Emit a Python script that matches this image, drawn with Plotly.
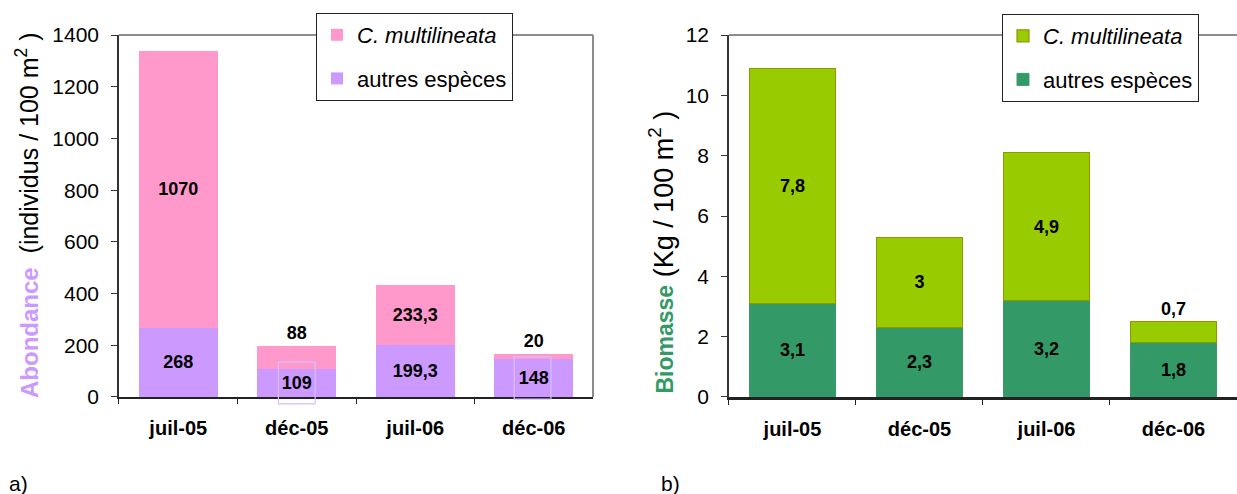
import plotly.graph_objects as go

# Sampling dates
dates = ["juil-05", "déc-05", "juil-06", "déc-06"]

# Abundance (individuals / 100 m²)
abond_autres = [268, 109, 199.3, 148]
abond_cmult = [1070, 88, 233.3, 20]

# Biomass (kg / 100 m²)
bio_autres = [3.1, 2.3, 3.2, 1.8]
bio_cmult = [7.8, 3, 4.9, 0.7]

abond_ticks = [0, 200, 400, 600, 800, 1000, 1200, 1400]
bio_ticks = [0, 2, 4, 6, 8, 10, 12]

FONT = "Liberation Sans, Arial, sans-serif"
PINK = "#FF99CC"
PURPLE = "#CC99FF"
LIME = "#99CC00"
GREEN = "#339966"


def fr(v):
    """French decimal formatting (comma separator)."""
    return f"{v:g}".replace(".", ",")


label_font = dict(family=FONT, size=18, color="black", weight="bold")

fig = go.Figure()

# ---- a) abundance ----
fig.add_trace(go.Bar(
    x=dates, y=abond_autres, name="autres espèces",
    marker=dict(color=PURPLE, line=dict(width=0)),
    width=0.667, text=[fr(v) for v in abond_autres],
    textposition="inside", insidetextanchor="middle", constraintext="none",
    textfont=label_font, xaxis="x", yaxis="y",
    legend="legend", legendgroup="a_autres", legendrank=2,
))
fig.add_trace(go.Bar(
    x=dates, y=abond_cmult, name="<i>C. multilineata</i>",
    marker=dict(color=PINK, line=dict(width=0)),
    width=0.667, text=[fr(v) for v in abond_cmult],
    textposition=["inside", "outside", "inside", "outside"],
    insidetextanchor="middle", constraintext="none",
    textfont=label_font, xaxis="x", yaxis="y",
    legend="legend", legendgroup="a_cmult", legendrank=1,
))

# ---- b) biomass ----
fig.add_trace(go.Bar(
    x=dates, y=bio_autres, name="autres espèces",
    marker=dict(color=GREEN, line=dict(width=1, color="#3A9A6A")),
    width=0.675, text=[fr(v) for v in bio_autres],
    textposition="inside", insidetextanchor="middle", constraintext="none",
    textfont=label_font, xaxis="x2", yaxis="y2",
    legend="legend2", legendgroup="b_autres", legendrank=2,
))
fig.add_trace(go.Bar(
    x=dates, y=bio_cmult, name="<i>C. multilineata</i>",
    marker=dict(color=LIME, line=dict(width=1.2, color="#8C9900")),
    width=0.675, text=[fr(v) for v in bio_cmult],
    textposition=["inside", "inside", "inside", "outside"],
    insidetextanchor="middle", constraintext="none",
    textfont=label_font, xaxis="x2", yaxis="y2",
    legend="legend2", legendgroup="b_cmult", legendrank=1,
))

ydom = [0.1964, 0.9291]
xaxis_common = dict(
    type="category", tickson="boundaries", ticks="outside", ticklen=5,
    tickcolor="#222", showline=True, linecolor="#222",
    showgrid=False, zeroline=False, ticklabelstandoff=12, automargin=False,
    tickfont=dict(family=FONT, size=20, color="black", weight="bold"),
)
yaxis_common = dict(
    ticks="outside", ticklen=6, tickcolor="#333", showline=True,
    linecolor="#333", linewidth=1.5, showgrid=False, zeroline=False,
    ticklabelstandoff=8, domain=ydom, automargin=False,
    tickfont=dict(family=FONT, size=21, color="black"),
)

legend_common = dict(
    bgcolor="white", bordercolor="#222", borderwidth=1,
    font=dict(family=FONT, size=22, color="black"),
    traceorder="grouped", tracegroupgap=12,
    xanchor="left", yanchor="top",
)

fig.update_layout(
    template="none",
    width=1237, height=494,
    margin=dict(l=0, r=0, t=0, b=0, autoexpand=False),
    paper_bgcolor="white", plot_bgcolor="white",
    barmode="stack",
    font=dict(family=FONT, color="black"),
    xaxis=dict(domain=[0.0962, 0.4794], anchor="y", linewidth=1.8, **xaxis_common),
    yaxis=dict(anchor="x", range=[0, 1400], tickvals=abond_ticks, **yaxis_common),
    xaxis2=dict(domain=[0.5893, 1.0], anchor="y2", linewidth=2.5, **xaxis_common),
    yaxis2=dict(anchor="x2", range=[0, 12], tickvals=bio_ticks, **yaxis_common),
    legend=dict(x=316 / 1237, y=1 - 13 / 494, **legend_common),
    legend2=dict(x=1002 / 1237, y=1 - 14 / 494, **legend_common),
    showlegend=True,
)

# Grey frame on top / right of each plot area
frame = dict(type="line", line=dict(color="#8C8C8C", width=2), layer="below")
fig.add_shape(xref="x domain", yref="y domain", x0=0, x1=1, y0=1, y1=1, **frame)
fig.add_shape(xref="x domain", yref="y domain", x0=1, x1=1, y0=0, y1=1, **frame)
fig.add_shape(xref="x2 domain", yref="y2 domain", x0=0, x1=1, y0=1, y1=1, **frame)

# Thin outline boxes around two of the abundance labels
box = dict(type="rect", xref="x", yref="y domain", line=dict(color="#D8BFFF", width=1.2),
           fillcolor="rgba(0,0,0,0)", layer="above")
fig.add_shape(x0=0.845, x1=1.155, y0=-27 / 1400, y1=135 / 1400, **box)
fig.add_shape(x0=2.835, x1=3.145, y0=-8 / 1400, y1=155 / 1400, **box)

# Axis titles
fig.add_annotation(
    xref="paper", yref="paper", x=27 / 1237, y=1 - 215 / 494,
    xanchor="center", yanchor="middle", textangle=-90, showarrow=False,
    text="<b><span style='color:#CC99FF;font-size:24px'>Abondance</span></b>"
         "\u00a0\u00a0(individus / 100 m<sup>2</sup> )",
    font=dict(family=FONT, size=25, color="black"),
)
fig.add_annotation(
    xref="paper", yref="paper", x=662 / 1237, y=1 - 252.5 / 494,
    xanchor="center", yanchor="middle", textangle=-90, showarrow=False,
    text="<b><span style='color:#339966;font-size:23px'>Biomasse</span></b>"
         "\u00a0(Kg / 100 m<sup>2</sup> )",
    font=dict(family=FONT, size=27, color="black"),
)

# Panel letters
for letter, xpx in (("a)", 18), ("b)", 670)):
    fig.add_annotation(
        xref="paper", yref="paper", x=xpx / 1237, y=1 - 483 / 494,
        xanchor="center", yanchor="middle", showarrow=False, text=letter,
        font=dict(family=FONT, size=21, color="black"),
    )

fig.write_html("out.html")
